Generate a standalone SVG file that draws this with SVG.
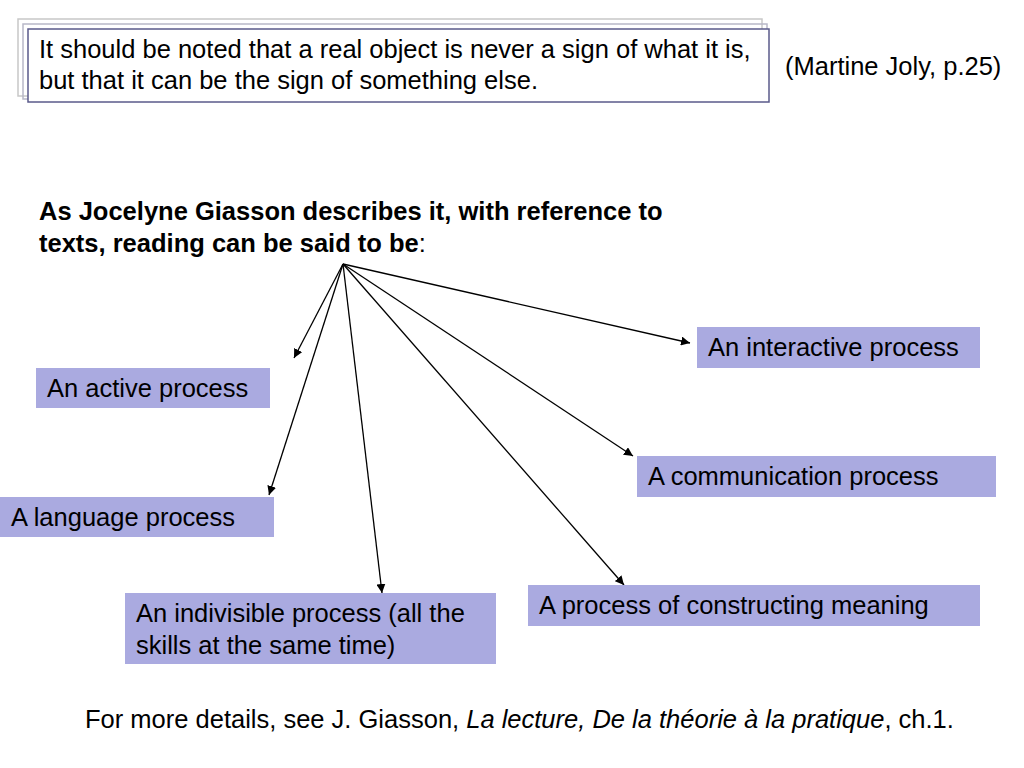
<svg xmlns="http://www.w3.org/2000/svg" width="1024" height="768" viewBox="0 0 1024 768">
<defs>
<marker id="ah" viewBox="0 0 10 10" refX="10" refY="5" markerWidth="9" markerHeight="9" markerUnits="userSpaceOnUse" orient="auto">
<path d="M0,0 L10,5 L0,10 z" fill="#000"/>
</marker>
<style>
.t{font-family:"Liberation Sans",Arial,sans-serif;font-size:25.5px;fill:#000}
.b{font-weight:bold}
.box{fill:#aaaae0}
.c{stroke:#000;stroke-width:1.3;fill:none;marker-end:url(#ah)}
</style>
</defs>
<rect width="1024" height="768" fill="#fff"/>
<g id="quote">
<rect x="18" y="19" width="744" height="77" fill="none" stroke="#c8c8c8" stroke-width="1.5"/>
<rect x="23" y="24" width="744" height="75" fill="none" stroke="#b8b8c8" stroke-width="1.5"/>
<rect x="28" y="29" width="741" height="73" fill="#fff" stroke="#5a5a8a" stroke-width="1.5"/>
<text class="t" x="39" y="58">It should be noted that a real object is never a sign of what it is,</text>
<text class="t" x="39" y="89">but that it can be the sign of something else.</text>
</g>
<g id="cite"><text class="t" x="785" y="75">(Martine Joly, p.25)</text></g>
<g id="heading">
<text class="t b" x="39" y="220">As Jocelyne Giasson describes it, with reference to</text>
<text class="t" x="39" y="252"><tspan class="b">texts, reading can be said to be</tspan>:</text>
</g>
<g id="connectors">
<line class="c" x1="343" y1="264" x2="294" y2="358"/>
<line class="c" x1="343" y1="264" x2="269" y2="495"/>
<line class="c" x1="343" y1="264" x2="382" y2="593"/>
<line class="c" x1="343" y1="264" x2="624" y2="585"/>
<line class="c" x1="343" y1="264" x2="633" y2="456"/>
<line class="c" x1="343" y1="264" x2="690" y2="343"/>
</g>
<g id="active"><rect class="box" x="36" y="368" width="234" height="40"/><text class="t" x="47" y="397">An active process</text></g>
<g id="language"><rect class="box" x="0" y="497" width="274" height="40"/><text class="t" x="11" y="526">A language process</text></g>
<g id="indivisible"><rect class="box" x="125" y="593" width="371" height="71"/><text class="t" x="136" y="622">An indivisible process (all the</text><text class="t" x="136" y="654">skills at the same time)</text></g>
<g id="constructing"><rect class="box" x="528" y="585" width="452" height="41"/><text class="t" x="539" y="614">A process of constructing meaning</text></g>
<g id="communication"><rect class="box" x="637" y="456" width="359" height="41"/><text class="t" x="648" y="485">A communication process</text></g>
<g id="interactive"><rect class="box" x="697" y="327" width="283" height="41"/><text class="t" x="708" y="356">An interactive process</text></g>
<g id="footer"><text class="t" x="85" y="728">For more details, see J. Giasson, <tspan font-style="italic">La lecture, De la théorie à la pratique</tspan>, ch.1.</text></g>
</svg>
